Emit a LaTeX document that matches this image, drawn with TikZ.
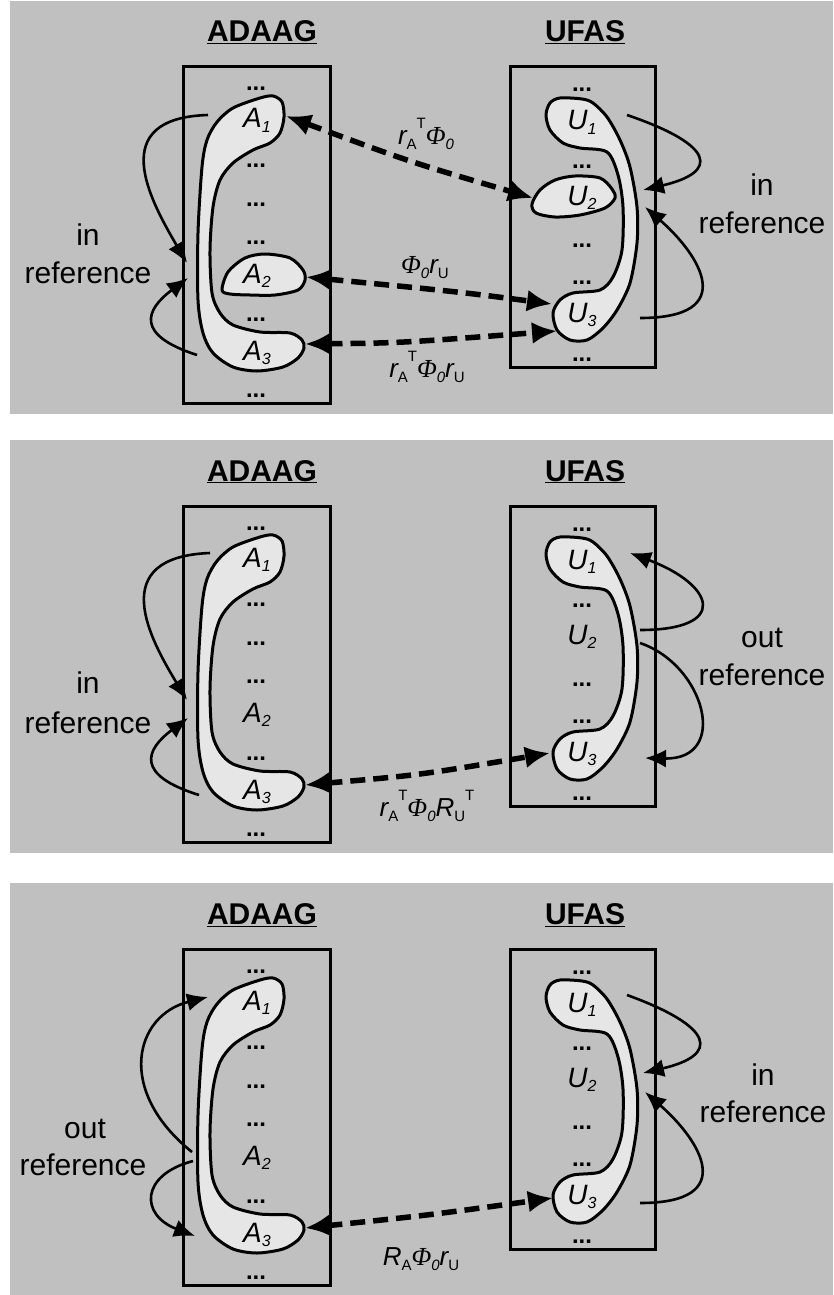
\documentclass[tikz,border=0pt]{standalone}
\usepackage{fontspec}
\setmainfont{Liberation Sans}
\newfontfamily\phifont{Liberation Serif}
\usetikzlibrary{arrows.meta}
\definecolor{panelbg}{HTML}{C0C0C0}
\definecolor{blobfill}{HTML}{E6E6E6}
\newcommand\mysb[1]{\raisebox{-0.15em}{\fontsize{16}{16}\selectfont\itshape #1}}
\newcommand\lsb[1]{\raisebox{-0.2em}{\fontsize{15}{15}\selectfont\upshape #1}}
\newcommand\lsp[1]{\raisebox{0.6em}{\fontsize{15}{15}\selectfont\upshape #1}}
\newcommand\Phiz{{\phifont\itshape Φ}}
\tikzset{
  hdr/.style={font=\fontsize{30}{36}\selectfont\bfseries, anchor=base, inner sep=0pt},
  var/.style={font=\fontsize{28}{32}\selectfont\itshape, anchor=base, inner sep=0pt},
  dotsty/.style={font=\fontsize{24}{24}\selectfont\bfseries, anchor=base, inner sep=0pt},
  side/.style={font=\fontsize{30}{36}\selectfont, anchor=base, inner sep=0pt},
  lbl/.style={font=\fontsize{26}{30}\selectfont\itshape, anchor=base, inner sep=0pt},
  boxln/.style={line width=3pt},
  blob/.style={line width=3pt, fill=blobfill, line join=round},
  loopar/.style={line width=2.6pt, -{Latex[length=21pt,width=18pt]}},
  link/.style={line width=5.5pt, dash pattern=on 15pt off 8pt,
    {Latex[length=25pt,width=22pt]}-{Latex[length=25pt,width=22pt]}}
}
\newcommand\panelbase{%
  \fill[panelbg] (10,1) rectangle (833,414);
  \draw[boxln] (183,67) rectangle (330,403);
  \draw[boxln] (510,67) rectangle (655,367);
  \draw[blob] plot[smooth cycle] coordinates {(260,98) (273,96) (282,102) (284,117) (280,133) (270,143) (253,150) (233,163) (220,180) (213,207) (210,250) (212,293) (220,313) (233,325) (260,332) (290,333) (302,340) (304,348) (298,358) (283,367) (257,371) (233,367) (213,353) (203,333) (198,300) (198,233) (202,167) (207,140) (217,122) (233,108)};
  \draw[blob] plot[smooth cycle] coordinates {(582,99) (593,103) (607,117) (620,140) (630,167) (637,207) (637,243) (630,283) (617,310) (603,328) (587,340) (570,340) (557,330) (553,313) (560,300) (573,293) (600,290) (613,277) (622,250) (623,207) (618,175) (607,152) (580,148) (563,143) (550,130) (546,115) (550,103) (560,98)};
}
\newcommand\paneltext[1]{%
  \node[hdr] (#1hA) at (262,42) {\underline{ADAAG}};
  \node[hdr] (#1hU) at (585,42) {\underline{UFAS}};
  \node[dotsty] (#1da1) at (256,91) {...};
  \node[dotsty] (#1da2) at (256,167) {...};
  \node[dotsty] (#1da3) at (256,206) {...};
  \node[dotsty] (#1da4) at (256,244) {...};
  \node[dotsty] (#1da5) at (256,321) {...};
  \node[dotsty] (#1da6) at (256,397) {...};
  \node[dotsty] (#1du1) at (582,92) {...};
  \node[dotsty] (#1du2) at (582,168) {...};
  \node[dotsty] (#1du3) at (582,247) {...};
  \node[dotsty] (#1du4) at (582,284) {...};
  \node[dotsty] (#1du5) at (582,361) {...};
  \node[var] (#1A1) at (257,128) {A\mysb{1}};
  \node[var] (#1A2) at (257,283) {A\mysb{2}};
  \node[var] (#1A3) at (257,360) {A\mysb{3}};
  \node[var] (#1U1) at (582,130) {U\mysb{1}};
  \node[var] (#1U2) at (582,205) {U\mysb{2}};
  \node[var] (#1U3) at (582,322) {U\mysb{3}};
}
\begin{document}
\begin{tikzpicture}[x=1pt,y=-1pt]
\fill[white] (0,0) rectangle (833,1295);
\useasboundingbox (0,0) rectangle (833,1295);
% ---------------- panel 1
\panelbase
\draw[blob] plot[smooth cycle] coordinates {(222,290) (228,272) (245,258) (265,254) (290,258) (303,270) (305,280) (298,290) (275,295) (250,295) (230,294)};
\draw[blob] plot[smooth cycle] coordinates {(532,204) (540,190) (555,180) (575,176) (600,178) (612,189) (615,198) (605,208) (580,215) (555,217) (536,213)};
\paneltext{p1}
\node[side] (p1inL) at (88,245) {in};
\node[side] (p1refL) at (88,283) {reference};
\node[side] (p1inR) at (762,195) {in};
\node[side] (p1refR) at (762,233) {reference};
\coordinate (p1ls1) at (208,115); \coordinate (p1lt1) at (187,263);
\draw[loopar] (p1ls1) .. controls (105,118) and (150,200) .. (p1lt1);
\coordinate (p1ls2) at (197,355); \coordinate (p1lt2) at (188,278);
\draw[loopar] (p1ls2) .. controls (135,335) and (145,310) .. (p1lt2);
\coordinate (p1rs1) at (627,115); \coordinate (p1rt1) at (643,190);
\draw[loopar] (p1rs1) .. controls (715,145) and (720,172) .. (p1rt1);
\coordinate (p1rs2) at (640,318); \coordinate (p1rt2) at (645,207);
\draw[loopar] (p1rs2) .. controls (740,318) and (700,255) .. (p1rt2);
\coordinate (p1a1e) at (286,116); \coordinate (p1u2w) at (533,198);
\draw[link] (p1a1e) .. controls (410,162) .. (p1u2w);
\coordinate (p1a2e) at (306,277); \coordinate (p1u3w) at (552,304);
\draw[link] (p1a2e) .. controls (460,292) .. (p1u3w);
\coordinate (p1a3e) at (305,344); \coordinate (p1u3s) at (557,331);
\draw[link] (p1a3e) .. controls (400,343) .. (p1u3s);
\node[lbl] (p1l1) at (426,144) {r\lsb{A}\lsp{T}\Phiz\lsb{\itshape 0}};
\node[lbl] (p1l2) at (425,273) {\Phiz\lsb{\itshape 0}r\lsb{U}};
\node[lbl] (p1l3) at (427,377) {r\lsb{A}\lsp{T}\Phiz\lsb{\itshape 0}r\lsb{U}};
% ---------------- panel 2
\begin{scope}[shift={(0,439)}]
\panelbase
\paneltext{p2}
\node[side] (p2inL) at (88,254) {in};
\node[side] (p2refL) at (88,294) {reference};
\node[side] (p2outR) at (762,208) {out};
\node[side] (p2refR) at (762,246) {reference};
\coordinate (p2ls1) at (210,114); \coordinate (p2lt1) at (187,261);
\draw[loopar] (p2ls1) .. controls (105,118) and (150,200) .. (p2lt1);
\coordinate (p2ls2) at (199,356); \coordinate (p2lt2) at (188,279);
\draw[loopar] (p2ls2) .. controls (135,336) and (145,311) .. (p2lt2);
\coordinate (p2rs1) at (640,191); \coordinate (p2rt1) at (630,114);
\draw[loopar] (p2rs1) .. controls (730,191) and (715,146) .. (p2rt1);
\coordinate (p2rs2) at (640,204); \coordinate (p2rt2) at (645,319);
\draw[loopar] (p2rs2) .. controls (705,226) and (730,321) .. (p2rt2);
\coordinate (p2a3e) at (305,346); \coordinate (p2u3w) at (550,314);
\draw[link] (p2a3e) .. controls (420,336) .. (p2u3w);
\node[lbl] (p2l) at (427,377) {r\lsb{A}\lsp{T}\Phiz\lsb{\itshape 0}R\lsb{U}\lsp{T}};
\end{scope}
% ---------------- panel 3
\begin{scope}[shift={(0,882)}]
\panelbase
\paneltext{p3}
\node[side] (p3outL) at (85,256) {out};
\node[side] (p3refL) at (83,293) {reference};
\node[side] (p3inR) at (763,203) {in};
\node[side] (p3refR) at (763,240) {reference};
\coordinate (p3ls1) at (192,270); \coordinate (p3lt1) at (208,115);
\draw[loopar] (p3ls1) .. controls (115,208) and (135,133) .. (p3lt1);
\coordinate (p3ls2) at (193,279); \coordinate (p3lt2) at (195,354);
\draw[loopar] (p3ls2) .. controls (140,293) and (140,333) .. (p3lt2);
\coordinate (p3rs1) at (627,113); \coordinate (p3rt1) at (643,191);
\draw[loopar] (p3rs1) .. controls (715,145) and (720,173) .. (p3rt1);
\coordinate (p3rs2) at (640,321); \coordinate (p3rt2) at (645,210);
\draw[loopar] (p3rs2) .. controls (740,321) and (700,258) .. (p3rt2);
\coordinate (p3a3e) at (305,346); \coordinate (p3u3w) at (553,316);
\draw[link] (p3a3e) .. controls (430,333) .. (p3u3w);
\node[lbl] (p3l) at (421,383) {R\lsb{A}\Phiz\lsb{\itshape 0}r\lsb{U}};
\end{scope}
\end{tikzpicture}
\end{document}
